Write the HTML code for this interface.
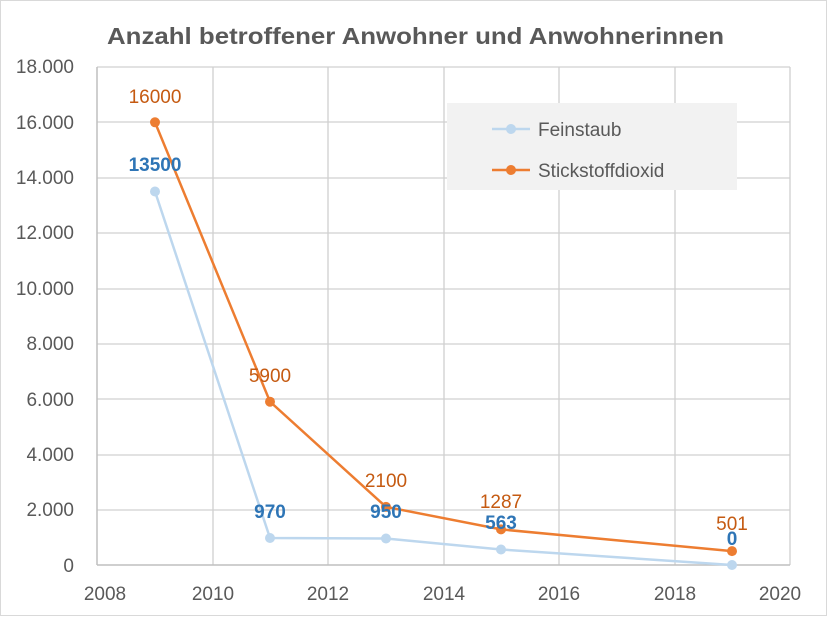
<!DOCTYPE html><html><head><style>body{margin:0;background:#fff}</style></head><body>
<svg width="827" height="616" xmlns="http://www.w3.org/2000/svg" font-family="Liberation Sans, sans-serif">
<rect x="0.5" y="0.5" width="826" height="615" fill="#fff" stroke="#d9d9d9"/>
<text x="107" y="44" textLength="617" lengthAdjust="spacingAndGlyphs" font-size="23" font-weight="bold" fill="#595959">Anzahl betroffener Anwohner und Anwohnerinnen</text>
<g stroke="#d0d0d0" stroke-width="1.3">
<line x1="97" y1="67" x2="790" y2="67"/><line x1="97" y1="122" x2="790" y2="122"/><line x1="97" y1="178" x2="790" y2="178"/><line x1="97" y1="233" x2="790" y2="233"/><line x1="97" y1="289" x2="790" y2="289"/><line x1="97" y1="344" x2="790" y2="344"/><line x1="97" y1="399" x2="790" y2="399"/><line x1="97" y1="455" x2="790" y2="455"/><line x1="97" y1="510" x2="790" y2="510"/>
<line x1="213" y1="67" x2="213" y2="565"/><line x1="328" y1="67" x2="328" y2="565"/><line x1="444" y1="67" x2="444" y2="565"/><line x1="559" y1="67" x2="559" y2="565"/><line x1="675" y1="67" x2="675" y2="565"/><line x1="790" y1="67" x2="790" y2="565"/>
</g>
<g stroke="#bfbfbf" stroke-width="1.5"><line x1="97" y1="67" x2="97" y2="565"/><line x1="97" y1="565" x2="790" y2="565"/></g>
<g font-size="19" fill="#595959" text-anchor="end">
<text x="74" y="73">18.000</text><text x="74" y="129">16.000</text><text x="74" y="184">14.000</text><text x="74" y="239">12.000</text><text x="74" y="295">10.000</text><text x="74" y="350">8.000</text><text x="74" y="406">6.000</text><text x="74" y="461">4.000</text><text x="74" y="516">2.000</text><text x="74" y="572">0</text>
</g>
<g font-size="19" fill="#595959" text-anchor="middle">
<text x="105" y="600">2008</text><text x="213" y="600">2010</text><text x="328" y="600">2012</text><text x="444" y="600">2014</text><text x="559" y="600">2016</text><text x="675" y="600">2018</text><text x="780" y="600">2020</text>
</g>
<rect x="447" y="103" width="290" height="87" fill="#f2f2f2"/>
<polyline points="155,191.5 270,538 386,538.5 501,549.5 732,565" fill="none" stroke="#bdd7ee" stroke-width="2.5"/>
<g fill="#bdd7ee"><circle cx="155" cy="191.5" r="5"/><circle cx="270" cy="538" r="5"/><circle cx="386" cy="538.5" r="5"/><circle cx="501" cy="549.5" r="5"/><circle cx="732" cy="565" r="5"/></g>
<polyline points="155,122.3 270,401.7 386,506.9 501,529.4 732,551.1" fill="none" stroke="#ed7d31" stroke-width="2.5"/>
<g fill="#ed7d31"><circle cx="155" cy="122.3" r="5"/><circle cx="270" cy="401.7" r="5"/><circle cx="386" cy="506.9" r="5"/><circle cx="501" cy="529.4" r="5"/><circle cx="732" cy="551.1" r="5"/></g>
<g font-size="19" fill="#c55a11" text-anchor="middle">
<text x="155" y="103">16000</text><text x="270" y="382">5900</text><text x="386" y="487">2100</text><text x="501" y="508">1287</text><text x="732" y="530">501</text>
</g>
<g font-size="19" font-weight="bold" fill="#2e75b6" text-anchor="middle">
<text x="155" y="171">13500</text><text x="270" y="518">970</text><text x="386" y="518">950</text><text x="501" y="529">563</text><text x="732" y="545">0</text>
</g>
<line x1="492" y1="129" x2="530" y2="129" stroke="#bdd7ee" stroke-width="2.5"/><circle cx="511" cy="129" r="5" fill="#bdd7ee"/>
<text x="538" y="136" font-size="19" fill="#595959">Feinstaub</text>
<line x1="492" y1="170" x2="530" y2="170" stroke="#ed7d31" stroke-width="2.5"/><circle cx="511" cy="170" r="5" fill="#ed7d31"/>
<text x="538" y="177" font-size="19" fill="#595959">Stickstoffdioxid</text>
</svg>
</body></html>
